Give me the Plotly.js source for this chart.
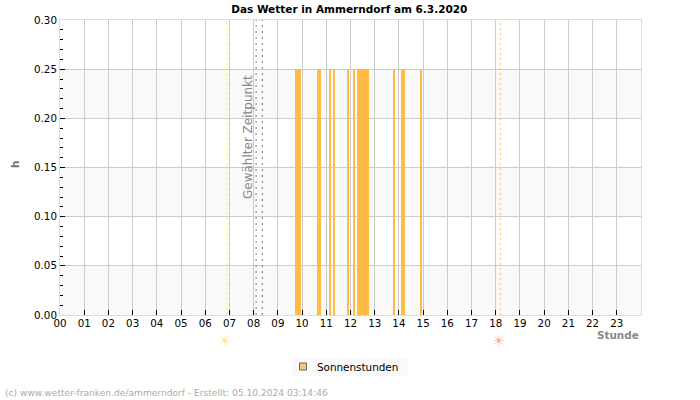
<!DOCTYPE html>
<html><head><meta charset="utf-8">
<script src="https://cdn.plot.ly/plotly-3.0.1.min.js"></script>
<style>html,body{margin:0;padding:0;background:#fff}</style></head>
<body><div id="chart" style="width:700px;height:400px"></div>
<script>
// Sunshine slots, minutes after midnight (centre of each 5-minute bar)
const sunMinutes = [585,590,595,640,645,670,680,715,730,740,745,750,755,760,765,830,850,855,895];
const sunValues  = [0.25,0.25,0.25,0.25,0.25,0.25,0.25,0.25,0.25,0.25,0.25,0.25,0.25,0.25,0.25,0.25,0.25,0.25,0.25];
const hourTicks  = ['00','01','02','03','04','05','06','07','08','09','10','11','12','13','14','15','16','17','18','19','20','21','22','23'];
const hourVals   = [0,1,2,3,4,5,6,7,8,9,10,11,12,13,14,15,16,17,18,19,20,21,22,23];
const bands      = [[0,0.05],[0.10,0.15],[0.20,0.25]];
const sunrise = 6.89, sunset = 18.19;
const selected = [8.1, 8.36];

const bar = {
  type:'bar', x:sunMinutes.map(m=>m/60), y:sunValues, width:1/12, offset:-0.0625,
  marker:{color:'#ffbb44',line:{width:0}}, showlegend:false, hoverinfo:'skip'
};
const legendEntry = {
  type:'scatter', mode:'markers', x:[null], y:[null], name:'Sonnenstunden',
  marker:{symbol:'square',size:7,color:'#f5c77a',line:{color:'#666',width:1}}
};
const vline=(x,color,dash)=>({type:'line',xref:'x',yref:'paper',x0:x,x1:x,y0:0,y1:1,line:{color,width:1,dash}});
const pw=581, ph=295, pl=60;
const shapes = bands.map(b=>({type:'rect',xref:'paper',yref:'y',x0:0,x1:1,y0:b[0],y1:b[1],fillcolor:'#f9f9f9',line:{width:0},layer:'below'}))
  .concat([vline(sunrise,'#ffee44','2px,3px'),vline(sunset,'#ffbb66','2px,3px'),vline(selected[0],'#777','2px,4px'),vline(selected[1],'#777','2px,4px'),
  {type:'rect',xref:'paper',yref:'paper',x0:(292-pl)/pw,x1:(408-pl)/pw,y0:(315-376)/ph,y1:(315-358)/ph,fillcolor:'#f9f9f9',line:{width:0},layer:'below'}]);

const font='"DejaVu Sans", sans-serif';
const layout = {
  width:700,height:400,
  margin:{l:pl,r:700-pl-pw,t:20,b:85,pad:0,autoexpand:false},
  paper_bgcolor:'#fff',plot_bgcolor:'#fff',
  font:{family:font,size:10.3,color:'#000'},
  bargap:0,
  title:{text:'<b>Das Wetter in Ammerndorf am 6.3.2020</b>',font:{family:font,size:10.5,color:'#000'},x:0.499,xanchor:'center',y:0.976,yanchor:'middle',automargin:false},
  xaxis:{range:[0,24],tickmode:'array',tickvals:hourVals,ticktext:hourTicks,ticks:'inside',ticklen:5,tickcolor:'#000',tickwidth:1,ticklabelstandoff:-1,
    showgrid:true,gridcolor:'#ccc',gridwidth:1,showline:true,linecolor:'#ddd',linewidth:1,mirror:true,zeroline:false,tickangle:0,tickfont:{size:10.3}},
  yaxis:{range:[0,0.3],tickmode:'linear',tick0:0,dtick:0.05,tickformat:'.2f',ticks:'inside',ticklen:5,tickcolor:'#000',tickwidth:1,
    minor:{dtick:0.01,ticks:'inside',ticklen:3,tickcolor:'#000',tickwidth:1,showgrid:false},
    showgrid:true,gridcolor:'#ccc',gridwidth:1,showline:true,linecolor:'#ddd',linewidth:1,mirror:true,zeroline:false},
  shapes,
  showlegend:true,
  legend:{x:283/700,y:1-352/400,xref:'container',yref:'container',xanchor:'left',yanchor:'top',bgcolor:'rgba(0,0,0,0)',borderwidth:0,font:{size:10.4,color:'#000'},itemclick:false},
  annotations:[
    {xref:'paper',yref:'paper',x:(15-pl)/pw,y:(315-165)/ph,xanchor:'center',yanchor:'middle',text:'<b>h</b>',textangle:-90,showarrow:false,font:{size:10.5,color:'#777'}},
    {xref:'paper',yref:'paper',x:(248-pl)/pw,y:(315-137)/ph,xanchor:'center',yanchor:'middle',text:'Gewählter Zeitpunkt',textangle:-90,showarrow:false,font:{size:12,color:'#888'}},
    {xref:'paper',yref:'paper',x:1,y:-19.5/ph,xanchor:'right',yanchor:'middle',text:'<b>Stunde</b>',showarrow:false,font:{size:10.4,color:'#888'}},
    {xref:'x',yref:'paper',x:6.81,y:-26/ph,yanchor:'middle',text:'☀',showarrow:false,font:{size:15,color:'#ffe699'}},
    {xref:'x',yref:'paper',x:18.13,y:-26/ph,yanchor:'middle',text:'☀',showarrow:false,font:{size:15,color:'#ffb0a0'}},
    {xref:'paper',yref:'paper',x:(3-pl)/pw,y:-78/ph,xanchor:'left',yanchor:'middle',text:'(c) www.wetter-franken.de/ammerndorf - Erstellt: 05.10.2024 03:14:46',showarrow:false,font:{size:9.1,color:'#aaa'}}
  ]
};
Plotly.newPlot('chart',[bar,legendEntry],layout,{displayModeBar:false,staticPlot:true}).then(()=>{
  const t=document.querySelector('.legendtext');
  if(t) t.setAttribute('x', String(parseFloat(t.getAttribute('x'))-6));
});
</script></body></html>
